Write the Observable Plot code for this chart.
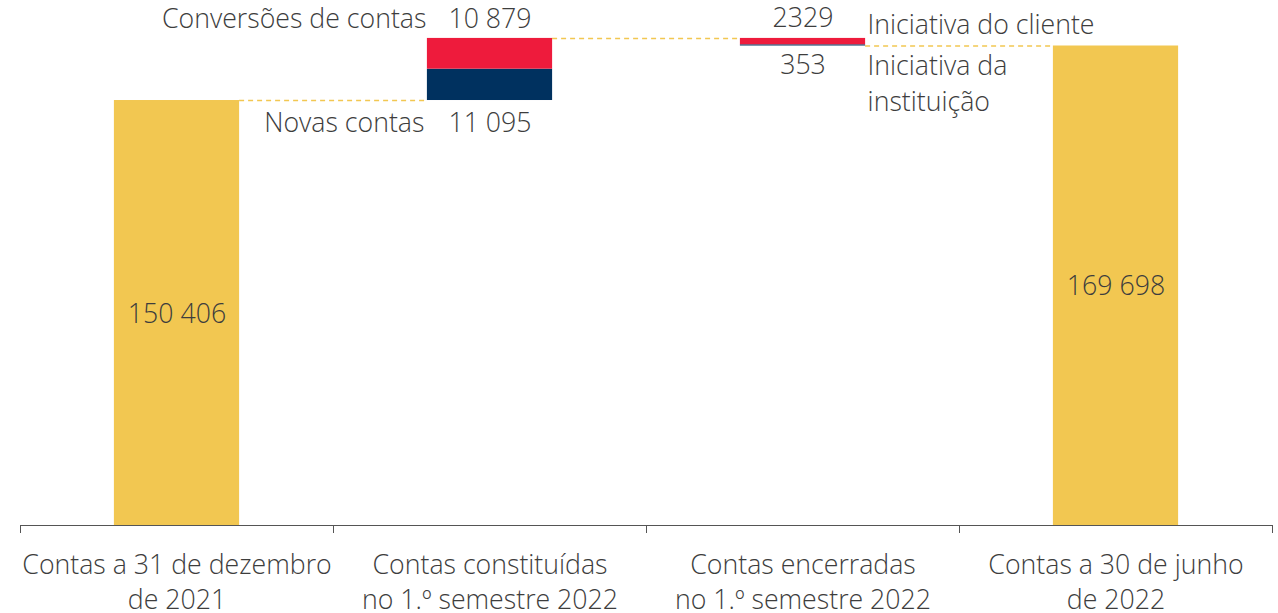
<!DOCTYPE html>
<html>
<head>
<meta charset="utf-8">
<script src="https://cdn.jsdelivr.net/npm/d3@7"></script>
<script src="https://cdn.jsdelivr.net/npm/@observablehq/plot@0.6"></script>
<style>
  html, body { margin: 0; padding: 0; background: #fff; }
  #chart svg { display: block; }
</style>
</head>
<body>
<div id="chart"></div>
<script>
// ---- Data ----
const categories = [
  "Contas a 31 de dezembro\nde 2021",
  "Contas constituídas\nno 1.º semestre 2022",
  "Contas encerradas\nno 1.º semestre 2022",
  "Contas a 30 de junho\nde 2022"
];
const startTotal = 150406;          // Contas a 31 de dezembro de 2021
const endTotal = 169698;            // Contas a 30 de junho de 2022
const newAccounts = 11095;          // Novas contas
const conversions = 10879;          // Conversões de contas
const clientClosures = 2329;        // Iniciativa do cliente
const institutionClosures = 353;    // Iniciativa da instituição
const valueLabels = ["150 406", "11 095", "10 879", "2329", "353", "169 698"];
const seriesLabels = ["Novas contas", "Conversões de contas", "Iniciativa do cliente", "Iniciativa da\ninstituição"];

// ---- Derived ----
const colors = {total: "#F2C751", up: "#00315F", conv: "#EE1B3C"};
const half = 0.2;
const peak = startTotal + newAccounts + conversions;
const segments = [
  {i: 0, y1: 0, y2: startTotal, c: colors.total},
  {i: 1, y1: startTotal, y2: startTotal + newAccounts, c: colors.up},
  {i: 1, y1: startTotal + newAccounts, y2: peak, c: colors.conv},
  {i: 2, y1: peak - clientClosures, y2: peak, c: colors.conv},
  {i: 2, y1: peak - clientClosures - institutionClosures, y2: peak - clientClosures, c: colors.up},
  {i: 3, y1: 0, y2: endTotal, c: colors.total}
];
const connectors = [
  {a: 0, b: 1, y: startTotal},
  {a: 1, b: 2, y: peak},
  {a: 2, b: 3, y: endTotal}
];
const boundaries = d3.range(categories.length + 1).map(k => k - 0.5);
const ink = "#3d3d3d";
const txt = {fill: ink, fontWeight: 300};

const chart = Plot.plot({
  width: 1278,
  height: 613,
  marginLeft: 20,
  marginRight: 6,
  marginTop: 0,
  marginBottom: 88,
  x: {domain: [-0.5, categories.length - 0.5], axis: null},
  y: {domain: [0, 185800], axis: null},
  style: {fontFamily: "'Open Sans', sans-serif", fontSize: "26.7px", color: ink, background: "#fff"},
  marks: [
    Plot.ruleY(connectors, {x1: d => d.a + half, x2: d => d.b - half, y: "y", stroke: "#F2C751", strokeWidth: 1.5, strokeDasharray: "5,4"}),
    Plot.rectY(segments, {x1: d => d.i - half, x2: d => d.i + half, y1: "y1", y2: "y2", fill: "c"}),
    Plot.ruleY([0], {stroke: "#555", strokeWidth: 1}),
    Plot.axisX(boundaries, {tickSize: 8, tickFormat: () => "", stroke: "#555"}),
    Plot.text(categories, {x: (d, k) => k, y: 0, text: d => d, lineAnchor: "top", dy: 24, lineHeight: 1.31, ...txt}),
    // totals inside bars
    Plot.text([startTotal], {x: 0, y: d => d / 2, text: () => valueLabels[0], dy: 1, ...txt}),
    Plot.text([endTotal], {x: 3, y: d => d / 2, text: () => valueLabels[5], dy: 1, ...txt}),
    // increase labels
    Plot.text([startTotal], {x: 1, y: d => d, text: () => valueLabels[1], dy: 23, ...txt}),
    Plot.text([peak], {x: 1, y: d => d, text: () => valueLabels[2], dy: -19, ...txt}),
    Plot.text([startTotal], {x: 1 - half, y: d => d, text: () => seriesLabels[0], dx: -3, dy: 23, textAnchor: "end", ...txt}),
    Plot.text([peak], {x: 1 - half, y: d => d, text: () => seriesLabels[1], dx: -1, dy: -19, textAnchor: "end", ...txt}),
    // decrease labels
    Plot.text([peak], {x: 2, y: d => d, text: () => valueLabels[3], dy: -20, ...txt}),
    Plot.text([endTotal], {x: 2, y: d => d, text: () => valueLabels[4], dy: 19, ...txt}),
    Plot.text([peak], {x: 2 + half, y: d => d, text: () => seriesLabels[2], dx: 2, dy: -13, textAnchor: "start", ...txt}),
    Plot.text([endTotal], {x: 2 + half, y: d => d, text: () => seriesLabels[3], dx: 2, dy: 3, lineAnchor: "top", lineHeight: 1.35, textAnchor: "start", ...txt})
  ]
});
document.getElementById("chart").appendChild(chart);
</script>
</body>
</html>
